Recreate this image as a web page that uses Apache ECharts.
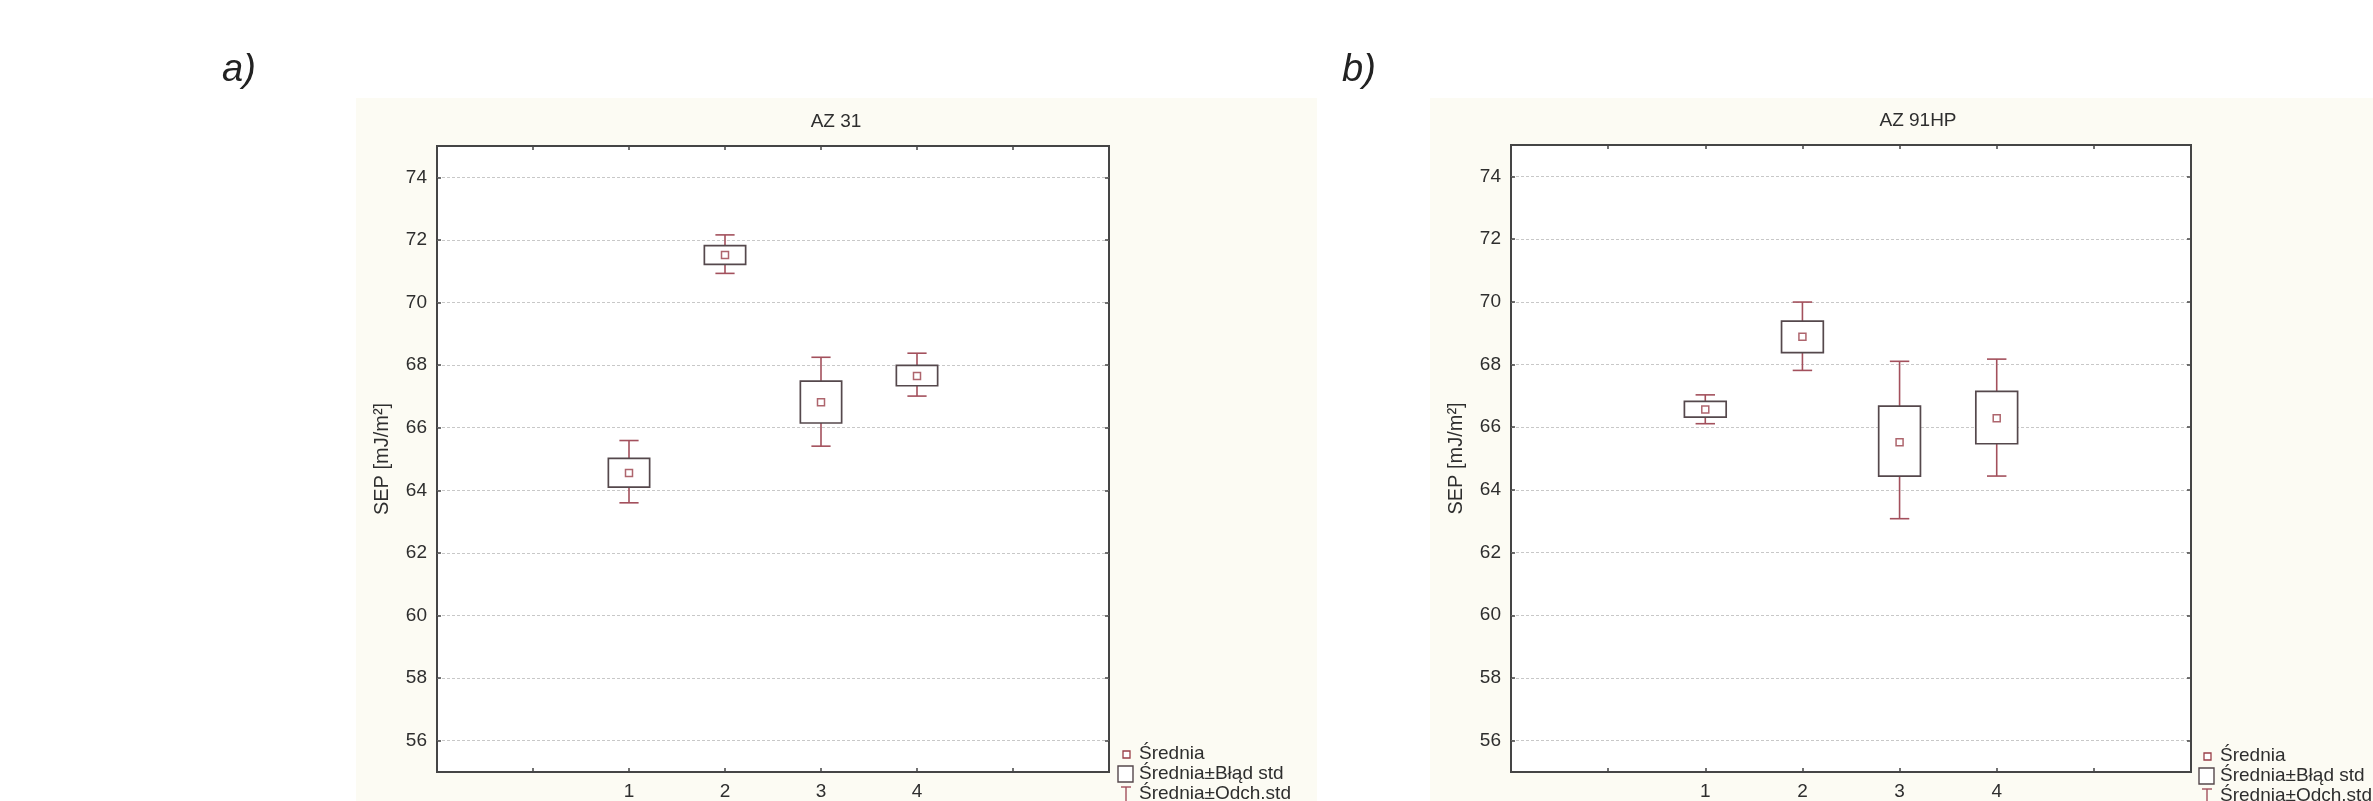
<!DOCTYPE html>
<html><head><meta charset="utf-8">
<script src="https://cdn.jsdelivr.net/npm/echarts@6/dist/echarts.min.js"></script>
<style>html,body{margin:0;padding:0;background:#fff}#c{width:2373px;height:801px}</style>
</head><body><div id="c"></div>
<script>
// ---- data ----
const categories = [1, 2, 3, 4];
const yTickValues = [56, 58, 60, 62, 64, 66, 68, 70, 72, 74];
const xTickValues = [0, 1, 2, 3, 4, 5];
const titleA = 'AZ 31';
const titleB = 'AZ 91HP';
const yAxisName = 'SEP [mJ/m²]';
const legendLabels = ['Średnia', 'Średnia±Błąd std', 'Średnia±Odch.std'];

const meanA   = [64.55, 71.52, 66.81, 67.65];
const seLowA  = [64.10, 71.22, 66.15, 67.34];
const seHighA = [65.02, 71.82, 67.49, 67.99];
const sdLowA  = [63.60, 70.93, 65.41, 67.01];
const sdHighA = [65.59, 72.16, 68.25, 68.38];

const meanB   = [66.56, 68.88, 65.52, 66.28];
const seLowB  = [66.32, 68.38, 64.44, 65.47];
const seHighB = [66.82, 69.38, 66.67, 67.14];
const sdLowB  = [66.11, 67.81, 63.08, 64.44];
const sdHighB = [67.03, 69.99, 68.10, 68.17];

// ---- styling ----
const FONT = 'Liberation Sans, Arial, sans-serif';
const TXT = '#2e2e2e';
const BOX_C = '#55484c';
const WHISK_C = '#a3505c';
const MEAN_C = '#9a3f48';
const BORDER_C = '#454545';
const PANEL_C = '#fcfbf3';
const BOX_W = 0.43;
const CAP_W = 0.2;

const chart = echarts.init(document.getElementById('c'), null, {renderer: 'canvas'});

function xAxes(gi) {
  const tick = {show: true, inside: true, length: 4, customValues: xTickValues, lineStyle: {color: BORDER_C, width: 1.5}};
  return [
    {gridIndex: gi, type: 'value', position: 'bottom', min: -1, max: 6, interval: 1,
     axisLine: {show: false, onZero: false}, axisTick: tick, splitLine: {show: false},
     axisLabel: {customValues: categories, fontSize: 19, color: TXT, fontFamily: FONT, margin: 10}},
    {gridIndex: gi, type: 'value', position: 'top', min: -1, max: 6, interval: 1,
     axisLine: {show: false, onZero: false}, axisTick: tick, splitLine: {show: false}, axisLabel: {show: false}}
  ];
}
function yAxes(gi) {
  const tick = {show: true, inside: true, length: 4, customValues: yTickValues, lineStyle: {color: BORDER_C, width: 1.5}};
  return [
    {gridIndex: gi, type: 'value', position: 'left', min: 55, max: 75, interval: 1,
     axisLine: {show: false, onZero: false}, axisTick: tick,
     axisLabel: {customValues: yTickValues, fontSize: 19, color: TXT, fontFamily: FONT, margin: 10},
     splitLine: {show: true, lineStyle: {color: '#c8c8c8', type: [3, 2], width: 1.2}},
     name: yAxisName, nameLocation: 'middle', nameRotate: 90, nameGap: 45,
     nameTextStyle: {fontSize: 20, color: TXT, fontFamily: FONT}},
    {gridIndex: gi, type: 'value', position: 'right', min: 55, max: 75, interval: 1,
     axisLine: {show: false, onZero: false}, axisTick: tick, axisLabel: {show: false}, splitLine: {show: false}}
  ];
}

function whiskerRender(params, api) {
  const x = api.value(0), lo = api.value(1), hi = api.value(2);
  const pLo = api.coord([x, lo]), pHi = api.coord([x, hi]);
  const hw = api.size([CAP_W, 0])[0] / 2;
  const st = {stroke: WHISK_C, lineWidth: 1.6, fill: null};
  return {type: 'group', children: [
    {type: 'line', shape: {x1: pLo[0], y1: pLo[1], x2: pHi[0], y2: pHi[1]}, style: st},
    {type: 'line', shape: {x1: pLo[0] - hw, y1: pLo[1], x2: pLo[0] + hw, y2: pLo[1]}, style: st},
    {type: 'line', shape: {x1: pHi[0] - hw, y1: pHi[1], x2: pHi[0] + hw, y2: pHi[1]}, style: st}
  ]};
}
function boxRender(params, api) {
  const x = api.value(0), lo = api.value(1), hi = api.value(2);
  const pLo = api.coord([x, lo]), pHi = api.coord([x, hi]);
  const w = api.size([BOX_W, 0])[0];
  return {type: 'rect', shape: {x: pLo[0] - w / 2, y: pHi[1], width: w, height: pLo[1] - pHi[1]},
          style: {stroke: BOX_C, lineWidth: 1.7, fill: '#fff'}};
}

function seriesFor(gi, mean, seLo, seHi, sdLo, sdHi) {
  return [
    {type: 'custom', xAxisIndex: gi * 2, yAxisIndex: gi * 2, renderItem: whiskerRender,
     encode: {x: 0, y: [1, 2]}, silent: true, z: 2,
     data: categories.map((c, i) => [c, sdLo[i], sdHi[i]])},
    {type: 'custom', xAxisIndex: gi * 2, yAxisIndex: gi * 2, renderItem: boxRender,
     encode: {x: 0, y: [1, 2]}, silent: true, z: 3,
     data: categories.map((c, i) => [c, seLo[i], seHi[i]])},
    {type: 'scatter', xAxisIndex: gi * 2, yAxisIndex: gi * 2, symbol: 'rect', symbolSize: 7, z: 4,
     itemStyle: {color: '#fff', borderColor: MEAN_C, borderWidth: 1.5}, silent: true,
     data: categories.map((c, i) => [c, mean[i]])}
  ];
}

function legendGraphics(x0, yTop) {
  const rows = [yTop, yTop + 20, yTop + 40];
  const els = [];
  els.push({type: 'rect', shape: {x: x0 - 3, y: rows[0] - 3, width: 7, height: 7},
            style: {stroke: MEAN_C, fill: '#fff', lineWidth: 1.3}});
  els.push({type: 'rect', shape: {x: x0 - 8, y: rows[1] - 8, width: 15, height: 16},
            style: {stroke: BOX_C, fill: '#fff', lineWidth: 1.4}});
  els.push({type: 'line', shape: {x1: x0 - 5, y1: rows[2] - 7, x2: x0 + 5, y2: rows[2] - 7},
            style: {stroke: WHISK_C, lineWidth: 1.4}});
  els.push({type: 'line', shape: {x1: x0, y1: rows[2] - 7, x2: x0, y2: rows[2] + 8},
            style: {stroke: WHISK_C, lineWidth: 1.4}});
  legendLabels.forEach((t, i) => {
    els.push({type: 'text', x: x0 + 13, y: rows[i],
              style: {text: t, fontSize: 19, fontFamily: FONT, fill: TXT, align: 'left', verticalAlign: 'middle'}});
  });
  return els;
}

const option = {
  animation: false,
  backgroundColor: '#fff',
  graphic: [
    {type: 'rect', z: -10, shape: {x: 356, y: 98, width: 961, height: 703}, style: {fill: PANEL_C}},
    {type: 'rect', z: -10, shape: {x: 1430, y: 98, width: 943, height: 703}, style: {fill: PANEL_C}},
    {type: 'text', x: 222, y: 70, style: {text: 'a)', fontSize: 38, fontStyle: 'italic', fontFamily: FONT, fill: '#222', align: 'left', verticalAlign: 'middle'}},
    {type: 'text', x: 1342, y: 70, style: {text: 'b)', fontSize: 38, fontStyle: 'italic', fontFamily: FONT, fill: '#222', align: 'left', verticalAlign: 'middle'}},
    {type: 'text', x: 836, y: 122, style: {text: titleA, fontSize: 19, fontFamily: FONT, fill: TXT, align: 'center', verticalAlign: 'middle'}},
    {type: 'text', x: 1918, y: 121, style: {text: titleB, fontSize: 19, fontFamily: FONT, fill: TXT, align: 'center', verticalAlign: 'middle'}},
    ...legendGraphics(1126, 754),
    ...legendGraphics(2207, 756)
  ],
  grid: [
    {left: 437, top: 146, width: 672, height: 633, show: true, backgroundColor: '#fff', borderColor: BORDER_C, borderWidth: 2},
    {left: 1511, top: 145, width: 680, height: 635, show: true, backgroundColor: '#fff', borderColor: BORDER_C, borderWidth: 2}
  ],
  xAxis: [...xAxes(0), ...xAxes(1)],
  yAxis: [...yAxes(0), ...yAxes(1)],
  series: [
    ...seriesFor(0, meanA, seLowA, seHighA, sdLowA, sdHighA),
    ...seriesFor(1, meanB, seLowB, seHighB, sdLowB, sdHighB)
  ]
};
chart.setOption(option);
</script></body></html>
